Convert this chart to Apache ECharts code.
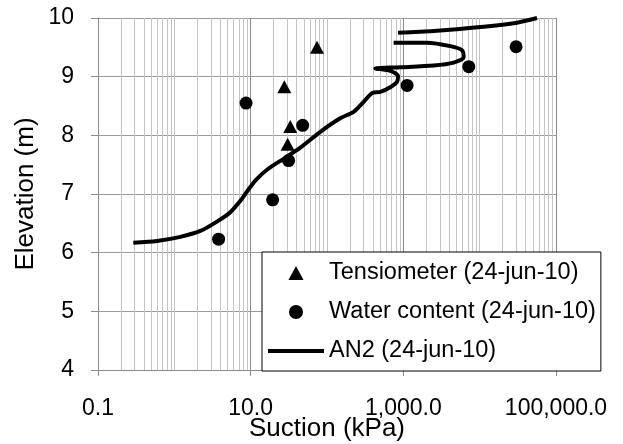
<!DOCTYPE html>
<html><head><meta charset="utf-8">
<script src="https://cdn.jsdelivr.net/npm/echarts@6/dist/echarts.min.js"></script>
<style>html,body{margin:0;padding:0;background:#fff}#c{width:623px;height:444px}</style>
</head><body><div id="c"></div>
<script>
// Tensiometer (24-jun-10)
const tensiometerX = [74, 27.6, 33, 30.5];
const tensiometerY = [9.5, 8.83, 8.15, 7.85];
// Water content (24-jun-10)
const waterX = [8.7, 48, 31.4, 19.4, 3.8, 1120, 7200, 30000];
const waterY = [8.55, 8.17, 7.57, 6.9, 6.23, 8.85, 9.17, 9.51];
// AN2 (24-jun-10)  (null = break in the curve)
const an2X = [0.29, 0.59, 1.2, 2.19, 3.62, 5.41, 7.7, 9.4, 11.9, 17,
  27, 44.7, 81.7, 149, 223, 302, 389, 499, 675, 826,
  851, 675, 430, 913, 2494, 4560, 6166, 5870, 4130, 2042,
  746, null, 851, 2494, 11270, 30840, 56400];
const an2Y = [6.17, 6.20, 6.27, 6.37, 6.53, 6.69, 6.92, 7.08, 7.25, 7.43,
  7.60, 7.79, 8.06, 8.29, 8.40, 8.57, 8.72, 8.74, 8.82, 8.91,
  9.01, 9.10, 9.14, 9.16, 9.19, 9.24, 9.33, 9.45, 9.52, 9.58,
  9.58, null, 9.75, 9.78, 9.85, 9.92, 10.0];
// axis ticks
const xTickValues = [0.1, 10, 1000, 100000];
const xTickLabels = ['0.1', '10.0', '1,000.0', '100,000.0'];
const yTickLabels = ['4', '5', '6', '7', '8', '9', '10'];
// vertical gridlines (log scale)
const xGridMajor = [0.1, 10, 1000, 100000];
const xGridMinor = [0.2, 0.3, 0.4, 0.5, 0.6, 0.7, 0.8, 0.9, 1,
  2, 3, 4, 5, 6, 7, 8, 9,
  20, 30, 40, 50, 60, 70, 80, 90, 100,
  200, 300, 400, 500, 600, 700, 800, 900,
  2000, 3000, 4000, 5000, 6000, 7000, 8000, 9000, 10000,
  20000, 30000, 40000, 50000, 60000, 70000, 80000, 90000];

const FONT = '"Liberation Sans", Arial, sans-serif';
const pairs = (xs, ys) => xs.map((x, i) => (x == null ? ['-', '-'] : [x, ys[i]]));

const gridLines = [];
xGridMinor.forEach(v => gridLines.push({ xAxis: v, lineStyle: { color: '#c4c4c4', width: 1, type: 'solid' } }));
xGridMajor.forEach(v => gridLines.push({ xAxis: v, lineStyle: { color: '#8a8a8a', width: 1, type: 'solid' } }));

const chart = echarts.init(document.getElementById('c'), null, { renderer: 'canvas' });
chart.setOption({
  animation: false,
  backgroundColor: '#fff',
  textStyle: { fontFamily: FONT },
  grid: { left: 98, right: 67, top: 18, bottom: 74, containLabel: false, outerBoundsMode: 'none' },
  xAxis: {
    type: 'log', logBase: 10, min: 0.1, max: 100000,
    name: 'Suction (kPa)', nameLocation: 'middle', nameGap: 46, nameMoveOverlap: false,
    nameTextStyle: { fontSize: 26, color: '#000', fontFamily: FONT },
    axisLine: { show: true, lineStyle: { color: '#8a8a8a', width: 1 } },
    axisTick: { show: true, inside: false, length: 6, customValues: xTickValues, lineStyle: { color: '#8a8a8a' } },
    axisLabel: {
      customValues: xTickValues, margin: 27, fontSize: 23, color: '#000', fontFamily: FONT,
      formatter: v => {
        let best = 0, bd = Infinity;
        xTickValues.forEach((t, i) => { const d = Math.abs(Math.log10(v) - Math.log10(t)); if (d < bd) { bd = d; best = i; } });
        return xTickLabels[best];
      }
    },
    splitLine: { show: false },
    minorTick: { show: false }, minorSplitLine: { show: false }
  },
  yAxis: {
    type: 'value', min: 4, max: 10, interval: 1,
    name: 'Elevation (m)', nameLocation: 'middle', nameGap: 59, nameMoveOverlap: false,
    nameTextStyle: { fontSize: 26, color: '#000', fontFamily: FONT },
    axisLine: { show: true, lineStyle: { color: '#8a8a8a', width: 1 } },
    axisTick: { show: true, inside: false, length: 7, lineStyle: { color: '#8a8a8a' } },
    axisLabel: { margin: 24, fontSize: 23, color: '#000', fontFamily: FONT,
      formatter: v => yTickLabels[Math.round(v) - 4] },
    splitLine: { show: true, lineStyle: { color: '#9a9a9a', width: 1 } }
  },
  legend: {
    orient: 'vertical', left: 262, top: 252,
    padding: [8, 5, 7, 6],
    itemWidth: 56, itemHeight: 14, itemGap: 13,
    symbolKeepAspect: true,
    borderColor: '#000', borderWidth: 1, borderRadius: 0, backgroundColor: '#fff',
    textStyle: { fontSize: 23.5, color: '#000', fontFamily: FONT, lineHeight: 26 },
    data: [
      { name: 'Tensiometer (24-jun-10)', icon: 'path://M7,0 L14,13 L0,13 Z' },
      { name: 'Water content (24-jun-10)', icon: 'circle' },
      { name: 'AN2 (24-jun-10)', icon: 'path://M0,0 L56,0 L56,4 L0,4 Z' }
    ]
  },
  series: [
    {
      name: 'grid', type: 'line', data: [], z: 1, silent: true,
      markLine: { silent: true, symbol: ['none', 'none'], z: 1, animation: false,
        label: { show: false }, emphasis: { disabled: true }, data: gridLines }
    },
    {
      name: 'AN2 (24-jun-10)', type: 'line', data: pairs(an2X, an2Y),
      showSymbol: false, symbol: 'none', smooth: 0.25, connectNulls: false, z: 3,
      lineStyle: { color: '#000', width: 4 }, itemStyle: { color: '#000', opacity: 1 }
    },
    {
      name: 'Tensiometer (24-jun-10)', type: 'scatter', data: pairs(tensiometerX, tensiometerY),
      symbol: 'triangle', symbolSize: [14, 13], z: 4, itemStyle: { color: '#000', opacity: 1 }
    },
    {
      name: 'Water content (24-jun-10)', type: 'scatter', data: pairs(waterX, waterY),
      symbol: 'circle', symbolSize: 13, z: 4, itemStyle: { color: '#000', opacity: 1 }
    }
  ]
});
</script></body></html>
